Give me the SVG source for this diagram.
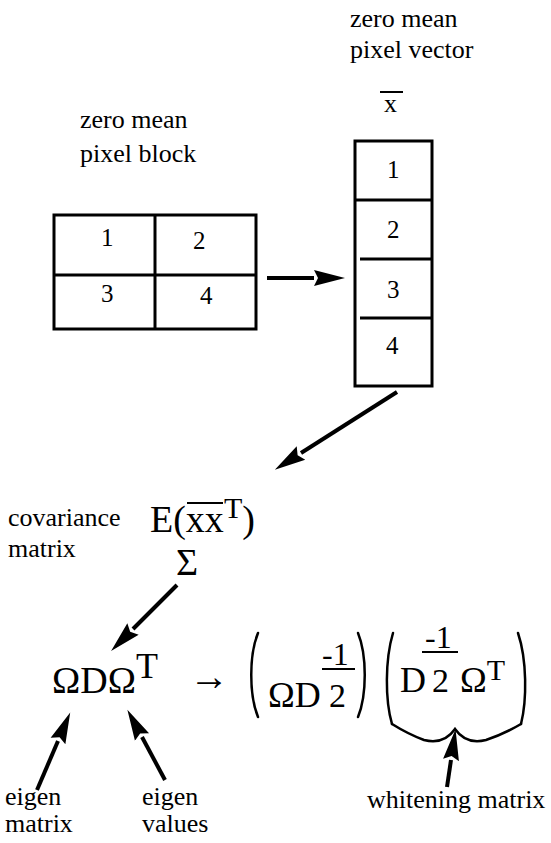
<svg xmlns="http://www.w3.org/2000/svg" width="551" height="843" viewBox="0 0 551 843">
<defs>
<style>
.lbl{font-size:26px}
.num{font-size:25px}
.m{font-size:38px}
.box{fill:none;stroke:#000;stroke-width:3}
.ln{stroke:#000;stroke-width:3;fill:none}
.arr{stroke:#000;stroke-width:4;fill:none;marker-end:url(#ah)}
.par{stroke:#000;stroke-width:2.5;fill:none;stroke-linecap:round}
.bar{stroke:#000;stroke-width:2}
</style>
<marker id="ah" markerUnits="userSpaceOnUse" markerWidth="32" markerHeight="20" viewBox="0 -10 32 20" refX="0" refY="0" orient="auto">
<path d="M0,-8 L31,0 L0,8 L4,0 z" fill="#000"/>
</marker>
</defs>
<rect width="551" height="843" fill="#fff"/>
<g font-family="'Liberation Serif', 'DejaVu Serif', serif" fill="#000">

<g id="block-label">
<text class="lbl" x="80" y="128">zero mean</text>
<text class="lbl" x="80" y="162">pixel block</text>
</g>

<g id="pixel-block">
<rect class="box" x="54" y="215" width="202" height="114"/>
<line class="ln" x1="54" y1="275" x2="256" y2="275"/>
<line class="ln" x1="155" y1="215" x2="155" y2="329"/>
<text class="num" x="101" y="246">1</text>
<text class="num" x="193" y="249">2</text>
<text class="num" x="101" y="302">3</text>
<text class="num" x="200" y="304">4</text>
</g>

<g id="vector-label">
<text class="lbl" x="350" y="27">zero mean</text>
<text class="lbl" x="350" y="58">pixel vector</text>
<text class="lbl" x="384" y="112">x</text>
<line class="bar" x1="380" y1="92" x2="403" y2="92"/>
</g>

<g id="pixel-vector">
<rect class="box" x="355" y="141" width="77" height="245"/>
<line class="ln" x1="355" y1="200" x2="432" y2="200"/>
<line class="ln" x1="360" y1="259" x2="432" y2="259"/>
<line class="ln" x1="360" y1="318" x2="432" y2="318"/>
<text class="num" x="387" y="178">1</text>
<text class="num" x="387" y="238">2</text>
<text class="num" x="387" y="298">3</text>
<text class="num" x="386" y="354">4</text>
</g>

<g id="covariance">
<text class="lbl" x="8" y="526">covariance</text>
<text class="lbl" x="8" y="557">matrix</text>
<text class="m" x="150" y="532">E(xx<tspan font-size="30" dy="-14">T</tspan><tspan dy="14">)</tspan></text>
<line class="bar" x1="187" y1="503" x2="223" y2="503"/>
<text class="m" x="176" y="575">Σ</text>
</g>

<g id="decomposition">
<text class="m" x="52" y="693">ΩDΩ<tspan font-size="36" dy="-15">T</tspan></text>
<text font-size="40" x="189" y="690">→</text>
</g>

<g id="factored">
<path class="par" d="M258,633 C249,655 249,695 258,717"/>
<path class="par" d="M358,633 C367,655 367,695 358,717"/>
<text font-size="36" x="268" y="707">ΩD</text>
<text font-size="34" x="329" y="707">2</text>
<line class="bar" x1="322" y1="669" x2="355" y2="669"/>
<text font-size="32" x="322" y="665">-1</text>

<path class="par" d="M393,633 C385,660 385,700 392,724"/>
<path class="par" d="M518,633 C527,660 527,700 521,724"/>
<path class="par" d="M392,724 Q408,734 424,740 Q444,745 455,729 Q466,745 486,740 Q504,734 521,724"/>
<text font-size="36" x="400" y="692">D</text>
<text font-size="34" x="432" y="692">2</text>
<line class="bar" x1="422" y1="652" x2="458" y2="652"/>
<text font-size="32" x="425" y="648">-1</text>
<text font-size="36" x="460" y="692">Ω<tspan font-size="30" dy="-12">T</tspan></text>
</g>

<g id="annotations">
<text class="lbl" x="5" y="805">eigen</text>
<text class="lbl" x="5" y="832">matrix</text>
<text class="lbl" x="142" y="805">eigen</text>
<text class="lbl" x="142" y="832">values</text>
<text class="lbl" x="367" y="808">whitening matrix</text>
</g>
</g>

<g id="connectors">
<line class="arr" x1="267" y1="278" x2="314" y2="278"/>
<line class="arr" x1="397" y1="392" x2="301" y2="453"/>
<line class="arr" x1="177" y1="585" x2="133" y2="629"/>
<line class="arr" x1="37" y1="790" x2="58" y2="741"/>
<line class="arr" x1="165" y1="780" x2="142" y2="737"/>
<line class="arr" x1="447" y1="787" x2="451" y2="760"/>
</g>
</svg>
